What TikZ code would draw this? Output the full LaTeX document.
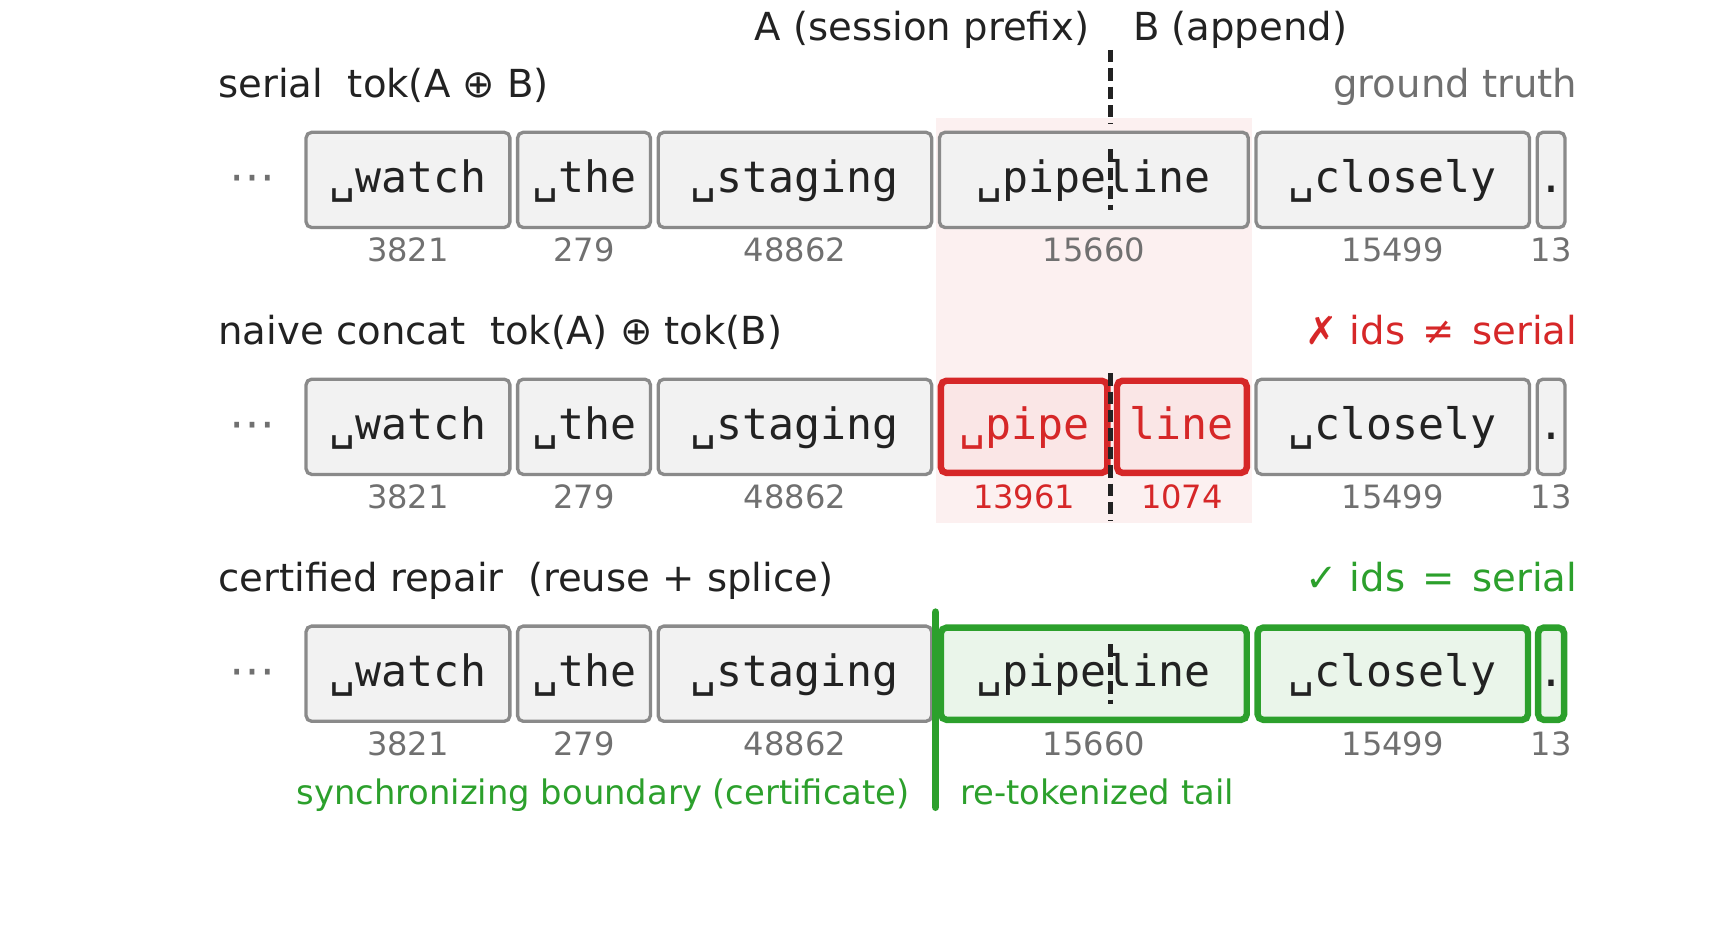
\documentclass[tikz,border=0pt]{standalone}
\usepackage{fontspec}
\setmainfont{DejaVu Sans}
\newfontfamily\tokmono{DejaVu Sans Mono}
\definecolor{ink}{HTML}{222222}
\definecolor{numgray}{HTML}{707070}
\definecolor{boxgray}{HTML}{8A8A8A}
\definecolor{boxfill}{HTML}{F2F2F2}
\definecolor{myred}{HTML}{D62728}
\definecolor{redfill}{HTML}{FAE6E6}
\definecolor{hlfill}{HTML}{FCF0F0}
\definecolor{mygreen}{HTML}{2CA02C}
\definecolor{greenfill}{HTML}{EAF5EA}
\begin{document}
\begin{tikzpicture}[x=0.5535pt,y=-0.5535pt,
  tok/.style={draw=boxgray, fill=boxfill, line width=1.66pt, rounded corners=2.8pt,
    inner sep=0pt, minimum height=47.6pt, text height=15.5pt, text depth=2.77pt,
    font=\tokmono\fontsize{21.6}{24}\selectfont, text=ink},
  tokred/.style={tok, draw=myred, fill=redfill, line width=3.2pt, minimum height=46.1pt, text=myred},
  tokgreen/.style={tok, draw=mygreen, fill=greenfill, line width=3.2pt, minimum height=46.1pt},
  idnum/.style={font=\fontsize{16.05}{19}\selectfont, text=numgray, anchor=base, inner sep=0pt},
  idred/.style={idnum, text=myred},
  rowtitle/.style={font=\fontsize{19.3}{22}\selectfont, text=ink, anchor=base west, inner sep=0pt},
  verdict/.style={font=\fontsize{19.3}{22}\selectfont, anchor=base east, inner sep=0pt},
  dots/.style={font=\fontsize{23}{26}\selectfont, text=numgray, anchor=base, inner sep=0pt},
  note/.style={font=\fontsize{16.9}{19}\selectfont, text=mygreen, inner sep=0pt},
  splitline/.style={draw=ink, line width=2.2pt, dash pattern=on 6.2pt off 3pt},
  certline/.style={draw=mygreen, line width=3.9pt, line cap=round}
]
\useasboundingbox (0,0) rectangle (1568,853.6);

% highlight band
\fill[hlfill] (845,107) rectangle (1131,472);

% header
\node[font=\fontsize{19.3}{22}\selectfont, text=ink, anchor=base east, inner sep=0pt] (labA) at (984,37) {A (session prefix)};
\node[font=\fontsize{19.3}{22}\selectfont, text=ink, anchor=base west, inner sep=0pt] (labB) at (1023,37) {B (append)};

% ---------- row 1
\node[rowtitle] (t1) at (197,88) {serial\ \ tok(A ⊕ B)};
\node[verdict, text=numgray] (v1) at (1425,88) {ground truth};
\node[dots] (d1) at (228,174) {⋯};
\node[tok, minimum width=101.9pt] (r1a) at (368.5,162.5) {␣watch};
\node[tok, minimum width=66.4pt]  (r1b) at (527.5,162.5) {␣the};
\node[tok, minimum width=136.7pt] (r1c) at (718,162.5)   {␣staging};
\node[tok, minimum width=154.4pt] (r1d) at (988,162.5)   {␣pipeline};
\node[tok, minimum width=136.7pt] (r1e) at (1258,162.5)  {␣closely};
\node[tok, minimum width=13.8pt]  (r1f) at (1401,162.5)  {.};
\node[idnum] (n1a) at (368.5,236.5) {3821};
\node[idnum] (n1b) at (527.5,236.5) {279};
\node[idnum] (n1c) at (718,236.5) {48862};
\node[idnum] (n1d) at (988,236.5) {15660};
\node[idnum] (n1e) at (1258,236.5) {15499};
\node[idnum] (n1f) at (1401,236.5) {13};

% ---------- row 2
\node[rowtitle] (t2) at (197,311) {naive concat\ \ tok(A) ⊕ tok(B)};
\node[verdict, text=myred] (v2) at (1425,311) {✗ ids\hspace{0.45em}≠\hspace{0.45em}serial};
\node[dots] (d2) at (228,397) {⋯};
\node[tok, minimum width=101.9pt] (r2a) at (368.5,385.5) {␣watch};
\node[tok, minimum width=66.4pt]  (r2b) at (527.5,385.5) {␣the};
\node[tok, minimum width=136.7pt] (r2c) at (718,385.5)   {␣staging};
\node[tokred, minimum width=83.2pt] (r2d) at (925,385.5) {␣pipe};
\node[tokred, minimum width=64.9pt] (r2e) at (1067.5,385.5) {line};
\node[tok, minimum width=136.7pt] (r2f) at (1258,385.5)  {␣closely};
\node[tok, minimum width=13.8pt]  (r2g) at (1401,385.5)  {.};
\node[idnum] (n2a) at (368.5,459.5) {3821};
\node[idnum] (n2b) at (527.5,459.5) {279};
\node[idnum] (n2c) at (718,459.5) {48862};
\node[idred] (n2d) at (925,459.5) {13961};
\node[idred] (n2e) at (1067.5,459.5) {1074};
\node[idnum] (n2f) at (1258,459.5) {15499};
\node[idnum] (n2g) at (1401,459.5) {13};

% ---------- row 3
\node[rowtitle] (t3) at (197,534) {certified repair\ \ (reuse + splice)};
\node[verdict, text=mygreen] (v3) at (1425,534) {✓ ids\hspace{0.45em}=\hspace{0.45em}serial};
\node[dots] (d3) at (228,620) {⋯};
\node[tok, minimum width=101.9pt] (r3a) at (368.5,608.5) {␣watch};
\node[tok, minimum width=66.4pt]  (r3b) at (527.5,608.5) {␣the};
\node[tok, minimum width=136.7pt] (r3c) at (718,608.5)   {␣staging};
\node[tokgreen, minimum width=152.9pt] (r3d) at (988,608.5)  {␣pipeline};
\node[tokgreen, minimum width=135.2pt] (r3e) at (1258,608.5) {␣closely};
\node[tokgreen, minimum width=12.3pt]  (r3f) at (1401,608.5) {.};
\node[idnum] (n3a) at (368.5,682.5) {3821};
\node[idnum] (n3b) at (527.5,682.5) {279};
\node[idnum] (n3c) at (718,682.5) {48862};
\node[idnum] (n3d) at (988,682.5) {15660};
\node[idnum] (n3e) at (1258,682.5) {15499};
\node[idnum] (n3f) at (1401,682.5) {13};
\node[note, anchor=base east] (cert) at (822,727) {synchronizing boundary (certificate)};
\node[note, anchor=base west] (tail) at (867,727) {re-tokenized tail};

% boundary lines
\coordinate (s0a) at (1003,45);  \coordinate (s0b) at (1003,112);
\coordinate (s1a) at (1003,135); \coordinate (s1b) at (1003,190);
\coordinate (s2a) at (1003,337); \coordinate (s2b) at (1003,470);
\coordinate (s3a) at (1003,582); \coordinate (s3b) at (1003,636);
\draw[splitline] (s0a) -- (s0b);
\draw[splitline] (s1a) -- (s1b);
\draw[splitline] (s2a) -- (s2b);
\draw[splitline] (s3a) -- (s3b);

\coordinate (ca) at (845,553); \coordinate (cb) at (845,729);
\draw[certline] (ca) -- (cb);
\end{tikzpicture}
\end{document}
